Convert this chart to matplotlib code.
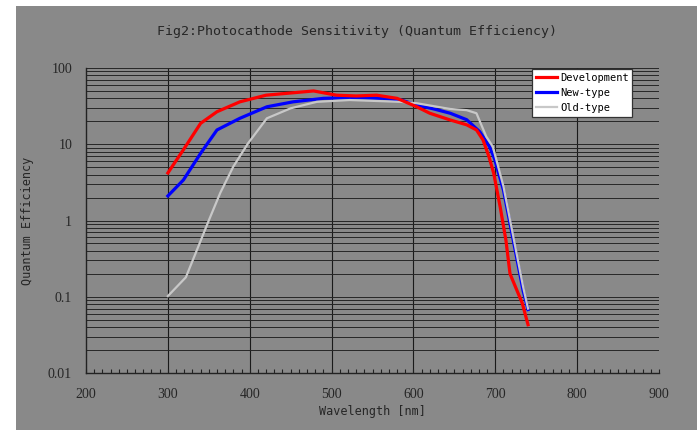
import matplotlib
matplotlib.use("Agg")
import matplotlib.pyplot as plt
from matplotlib.patches import Rectangle
from matplotlib.ticker import FixedLocator, LogLocator, NullFormatter

# data
wl_dev = [300, 320, 340, 360, 388, 420, 450, 478, 506, 530, 555, 580, 604, 620,
          645, 665, 677, 685, 692, 698, 706, 713, 718, 733, 740]
qe_dev = [4.2, 8.8, 18.8, 26.7, 36, 44, 47, 50, 44, 43, 44, 40, 31, 25.5,
          20.8, 18, 15.4, 11.4, 7, 4.2, 1.5, 0.55, 0.2, 0.082, 0.043]

wl_new = [300, 319, 340, 360, 388, 421, 453, 490, 530, 563, 585, 604, 625, 645,
          665, 681, 693, 699, 710, 734, 740]
qe_new = [2.1, 3.4, 7.6, 15.4, 21.9, 31, 36, 40, 41, 40, 38, 32.7, 29, 25.5,
          21, 14.6, 9.3, 6.5, 2.5, 0.12, 0.068]

wl_old = [300, 322, 337, 350, 364, 380, 398, 421, 450, 482, 522, 584, 604, 645,
          665, 677, 689, 697, 710, 734, 740]
qe_old = [0.102, 0.18, 0.45, 1.0, 2.3, 5.1, 10.3, 21.9, 29.6, 36, 38, 36, 34.5, 29,
          28, 25.5, 12.6, 9.3, 2.8, 0.135, 0.07]

x_ticks = [200, 300, 400, 500, 600, 700, 800, 900]
y_ticks = [0.01, 0.1, 1, 10, 100]
y_labels = ["0.01", "0.1", "1", "10", "100"]

bg = "#898989"
txt = "#262626"

fig = plt.figure(figsize=(6.97, 4.30), dpi=100, facecolor="white")
panel = Rectangle((16 / 697, 0), 1 - 16 / 697, 424 / 430,
                  transform=fig.transFigure, facecolor=bg, edgecolor="none")
panel.set_zorder(-10)
fig.add_artist(panel)

ax = fig.add_axes([86 / 697, 57 / 430, 573 / 697, 305 / 430])
ax.set_facecolor(bg)

ax.plot(wl_new, qe_new, color="#0000ff", lw=2.3, label="New-type", zorder=3)
ax.plot(wl_old, qe_old, color="#c8c8c8", lw=1.6, label="Old-type", zorder=4)
ax.plot(wl_dev, qe_dev, color="#ff0000", lw=2.3, label="Development", zorder=5)

ax.set_yscale("log")
ax.set_xlim(200, 900)
ax.set_ylim(0.01, 100)

ax.xaxis.set_major_locator(FixedLocator(x_ticks))
ax.xaxis.set_minor_locator(FixedLocator(range(200, 901, 10)))
ax.set_yticks(y_ticks)
ax.set_yticklabels(y_labels)
ax.yaxis.set_minor_locator(LogLocator(base=10, subs=range(2, 10)))
ax.yaxis.set_minor_formatter(NullFormatter())

# grid: vertical at the hundreds, horizontal at every decade step
for x in x_ticks[1:-1]:
    ax.axvline(x, color="#1a1a1a", lw=0.8, zorder=1)
ax.grid(True, axis="y", which="both", color="#262626", lw=0.7, zorder=1)

ax.tick_params(axis="x", which="both", direction="in", length=3, width=0.8,
               color="#222222", pad=11)
ax.tick_params(axis="y", which="both", length=0, pad=10)
for lab in ax.get_xticklabels() + ax.get_yticklabels():
    lab.set_fontfamily("Liberation Serif")
    lab.set_fontsize(10)
    lab.set_color(txt)

for side in ["top", "right"]:
    ax.spines[side].set_visible(False)
for side in ["left", "bottom"]:
    ax.spines[side].set_color("#222222")
    ax.spines[side].set_linewidth(1.0)

ax.set_xlabel("Wavelength [nm]", fontfamily="DejaVu Sans Mono", fontsize=8.5,
              color=txt, labelpad=3)
ax.set_ylabel("Quantum Efficiency", fontfamily="DejaVu Sans Mono", fontsize=8.5,
              color=txt, labelpad=10)
fig.text(357 / 697, 1 - 31 / 430, "Fig2:Photocathode Sensitivity (Quantum Efficiency)",
         fontfamily="DejaVu Sans Mono", fontsize=9.5, color=txt,
         ha="center", va="center")

handles, labels = ax.get_legend_handles_labels()
order = [2, 0, 1]
leg = ax.legend([handles[i] for i in order], [labels[i] for i in order],
                loc="upper left", bbox_to_anchor=(0.779, 0.997),
                prop={"family": "DejaVu Sans Mono", "size": 7.5},
                frameon=True, fancybox=False, framealpha=1,
                handlelength=2.0, handletextpad=0.3, borderpad=0.35,
                labelspacing=0.5, borderaxespad=0)
leg.get_frame().set_edgecolor("#333333")
leg.get_frame().set_linewidth(0.9)
leg.set_zorder(6)

fig.savefig("out.png", dpi=100, facecolor="white")
